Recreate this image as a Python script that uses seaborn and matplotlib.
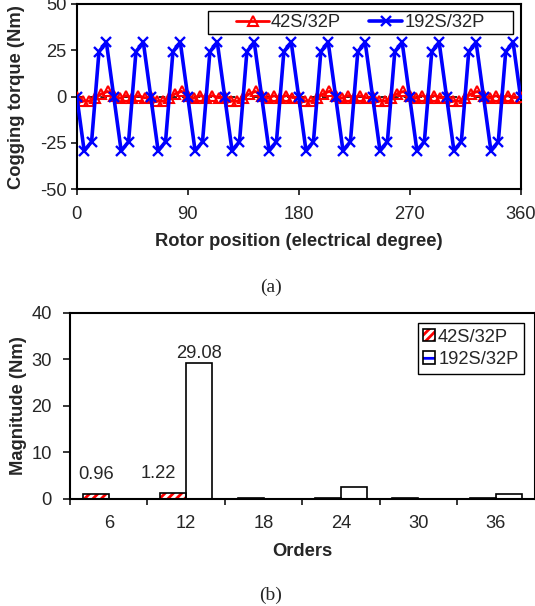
import numpy as np
import pandas as pd
import matplotlib
matplotlib.use("Agg")
import matplotlib.pyplot as plt
from matplotlib.patches import Patch, Rectangle
import seaborn as sns

# ---------------- data ----------------
# (a) cogging torque vs rotor position
pos_42 = list(range(0, 361, 5))
torque_42 = [
    -0.3, -2.3, -2.5, -0.8, 1.5, 2.8, 0.3, -0.8, 0.6, -0.7, 0.5, -0.6,
    -0.4, -2.4, -2.5, -0.7, 1.6, 2.9, 0.2, -0.8, 0.6, -0.7, 0.6, -0.6,
    -0.3, -2.3, -2.6, -0.8, 1.5, 2.8, 0.3, -0.9, 0.5, -0.7, 0.6, -0.5,
    -0.3, -2.4, -2.5, -0.8, 1.5, 2.9, 0.3, -0.8, 0.6, -0.6, 0.5, -0.6,
    -0.4, -2.3, -2.5, -0.7, 1.6, 2.8, 0.2, -0.8, 0.6, -0.7, 0.6, -0.6,
    -0.3, -2.4, -2.5, -0.8, 1.5, 2.8, 0.3, -0.8, 0.5, -0.7, 0.6, -0.6,
    -0.3,
]
pos_192 = list(range(0, 361, 6))
torque_192 = [
    0, -29.3, -24.3, 24.3, 29.3,
    0, -29.3, -24.3, 24.3, 29.3,
    0, -29.3, -24.3, 24.3, 29.3,
    0, -29.3, -24.3, 24.3, 29.3,
    0, -29.3, -24.3, 24.3, 29.3,
    0, -29.3, -24.3, 24.3, 29.3,
    0, -29.3, -24.3, 24.3, 29.3,
    0, -29.3, -24.3, 24.3, 29.3,
    0, -29.3, -24.3, 24.3, 29.3,
    0, -29.3, -24.3, 24.3, 29.3,
    0, -29.3, -24.3, 24.3, 29.3,
    0, -29.3, -24.3, 24.3, 29.3,
    0,
]
series_names = ["42S/32P", "192S/32P"]
x_ticks_a = [0, 90, 180, 270, 360]
y_ticks_a = [-50, -25, 0, 25, 50]

# (b) harmonic magnitudes
orders = ["6", "12", "18", "24", "30", "36"]
mag_42 = [0.96, 1.22, 0.20, 0.10, 0.05, 0.05]
mag_192 = [0.02, 29.08, 0.02, 2.60, 0.02, 0.95]
y_ticks_b = [0, 10, 20, 30, 40]

# ---------------- style ----------------
sns.set_style("ticks")
plt.rcParams["font.family"] = ["Liberation Sans", "DejaVu Sans"]
plt.rcParams["axes.unicode_minus"] = False
plt.rcParams["hatch.linewidth"] = 2.0
FS = 13.2

fig = plt.figure(figsize=(5.35, 6.06), dpi=100)
W, H = 535.0, 606.0

def axes_px(left, top, right, bottom):
    return fig.add_axes([left / W, 1 - bottom / H, (right - left) / W, (bottom - top) / H])

# ---------------- (a) ----------------
L1, T1, R1, B1 = 76.8, 4.0, 520.5, 189.3
ax1 = axes_px(L1, T1, R1, B1)
ax1.axhline(0, color="black", ls=(0, (4, 3)), lw=1.2, zorder=1)
sns.lineplot(x=pos_42, y=torque_42, ax=ax1, color="red", lw=2.0, marker="^",
             markersize=7, markerfacecolor="none", markeredgecolor="red",
             markeredgewidth=1.5, label=series_names[0], sort=False,
             errorbar=None, zorder=3)
sns.lineplot(x=pos_192, y=torque_192, ax=ax1, color="#0000ff", lw=2.6, marker="x",
             markersize=7.5, markeredgecolor="#0000ff", markeredgewidth=1.7,
             label=series_names[1], sort=False, errorbar=None, zorder=4)
ax1.set_xlim(0, 360)
ax1.set_ylim(-50, 50)
ax1.set_xticks(x_ticks_a)
ax1.set_yticks(y_ticks_a)
ax1.tick_params(axis="y", direction="out", length=4, width=1.3, labelsize=FS, pad=3.5)
ax1.tick_params(axis="x", direction="out", length=4, width=1.3, labelsize=FS, pad=8)
for s in ax1.spines.values():
    s.set_visible(True)
    s.set_linewidth(1.5)
    s.set_color("black")
ax1.set_xlabel("Rotor position (electrical degree)", fontsize=FS, fontweight="bold")
ax1.set_ylabel("Cogging torque (Nm)", fontsize=FS, fontweight="bold")
ax1.xaxis.label.set_va("center")
ax1.yaxis.label.set_va("center")
ax1.xaxis.set_label_coords(0.5, (B1 - 241) / (B1 - T1))
ax1.yaxis.set_label_coords((17 - L1) / (R1 - L1), 0.5)

# legend frame (drawn separately to allow the wide horizontal padding)
def ax_frac(ax_l, ax_t, ax_r, ax_b, px, py):
    return (px - ax_l) / (ax_r - ax_l), (ax_b - py) / (ax_b - ax_t)

fx0, fy1 = ax_frac(L1, T1, R1, B1, 207.5, 11)
fx1, fy0 = ax_frac(L1, T1, R1, B1, 513, 34)
ax1.add_patch(Rectangle((fx0, fy0), fx1 - fx0, fy1 - fy0, transform=ax1.transAxes,
                        facecolor="white", edgecolor="black", lw=1.0, zorder=5))
h, l = ax1.get_legend_handles_labels()
lx, ly = ax_frac(L1, T1, R1, B1, 236, 22.5)
leg1 = ax1.legend(h, l, ncol=2, loc="center left", bbox_to_anchor=(lx, ly),
                  borderaxespad=0, borderpad=0, fontsize=FS, frameon=False,
                  handlelength=1.8, columnspacing=1.55, handletextpad=0.1)
leg1.set_zorder(6)

# ---------------- (b) ----------------
L2, T2, R2, B2 = 70.0, 312.7, 534.5, 498.7
ax2 = axes_px(L2, T2, R2, B2)
df = pd.DataFrame({
    "Orders": orders * 2,
    "Magnitude": mag_42 + mag_192,
    "Series": [series_names[0]] * len(orders) + [series_names[1]] * len(orders),
})
sns.barplot(data=df, x="Orders", y="Magnitude", hue="Series", order=orders,
            hue_order=series_names, palette=["white", "white"], width=0.67,
            edgecolor="black", linewidth=1.2, ax=ax2, legend=False, zorder=2)
bars = [p for p in ax2.patches]
bars42 = bars[:len(orders)]
bars192 = bars[len(orders):len(orders) * 2]
for p in bars42:
    p.set_hatch("////")
    p.set_edgecolor("red")
    p.set_linewidth(0)
    ax2.bar(p.get_x() + p.get_width() / 2, p.get_height(), width=p.get_width(),
            fill=False, edgecolor="black", linewidth=1.2, zorder=3)

# value labels
ax2.text(bars42[0].get_x() + bars42[0].get_width() / 2, 5.3, f"{mag_42[0]:.2f}",
         ha="center", va="center", fontsize=FS)
ax2.text(bars42[1].get_x() + bars42[1].get_width() / 2 - 0.19, 5.4, f"{mag_42[1]:.2f}",
         ha="center", va="center", fontsize=FS)
ax2.text(bars192[1].get_x() + bars192[1].get_width() / 2, 31.3, f"{mag_192[1]:.2f}",
         ha="center", va="center", fontsize=FS)

ax2.set_xlim(-0.5, len(orders) - 0.5)
ax2.set_ylim(0, 40)
ax2.set_yticks(y_ticks_b)
ax2.set_xticks(range(len(orders)))
ax2.set_xticklabels(orders)
ax2.set_xticks(np.arange(len(orders)) - 0.5, minor=True)
ax2.tick_params(axis="x", which="major", length=0, labelsize=FS, pad=12)
ax2.tick_params(axis="x", which="minor", direction="out", length=4, width=1.3)
ax2.tick_params(axis="y", direction="out", length=5, width=1.3, labelsize=FS, pad=8)
for s in ax2.spines.values():
    s.set_visible(True)
    s.set_linewidth(1.5)
    s.set_color("black")
ax2.set_xlabel("Orders", fontsize=FS, fontweight="bold")
ax2.set_ylabel("Magnitude (Nm)", fontsize=FS, fontweight="bold")
ax2.xaxis.label.set_va("center")
ax2.yaxis.label.set_va("center")
ax2.xaxis.set_label_coords(0.5, (B2 - 551) / (B2 - T2))
ax2.yaxis.set_label_coords((19 - L2) / (R2 - L2), 0.5)

hl42 = (Patch(facecolor="white", edgecolor="red", hatch="////", linewidth=0),
        Patch(facecolor="none", edgecolor="black", linewidth=1.2))
hl192 = (Patch(facecolor="white", edgecolor="#0000ff", hatch="-", linewidth=0),
         Patch(facecolor="none", edgecolor="black", linewidth=1.2))
bx, by = ax_frac(L2, T2, R2, B2, 524, 323)
leg2 = ax2.legend([hl42, hl192], series_names, loc="upper right",
                  bbox_to_anchor=(bx, by),
                  borderaxespad=0, fontsize=FS, frameon=True, fancybox=False,
                  edgecolor="black", framealpha=1, handlelength=0.65,
                  handleheight=0.65, handletextpad=0.15, borderpad=0.3,
                  labelspacing=0.3)
leg2.get_frame().set_linewidth(1.0)

# captions
fig.text(271 / W, 1 - 287 / H, "(a)", family=["Liberation Serif", "DejaVu Serif"],
         fontsize=14, ha="center", va="center")
fig.text(271 / W, 1 - 595 / H, "(b)", family=["Liberation Serif", "DejaVu Serif"],
         fontsize=14, ha="center", va="center")

fig.savefig("out.png", dpi=100)
